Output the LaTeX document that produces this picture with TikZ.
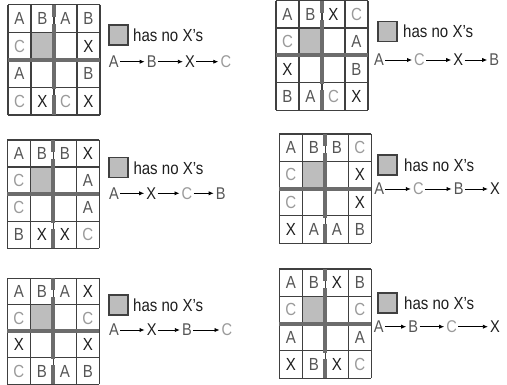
\documentclass[tikz,border=0pt]{standalone}
\usepackage{fontspec}
\setmainfont{Liberation Sans}[FakeStretch=0.86]
\usetikzlibrary{arrows.meta}
\definecolor{colA}{HTML}{555555}
\definecolor{colB}{HTML}{555555}
\definecolor{colC}{HTML}{9A9A9A}
\definecolor{colX}{HTML}{1E1E1E}
\definecolor{gridc}{HTML}{404040}
\definecolor{barc}{HTML}{6C6C6C}
\definecolor{cellgray}{HTML}{BDBDBD}
\tikzset{
  gl/.style={draw=gridc, line width=1.2pt},
  bar/.style={draw=barc, line width=4pt},
  ltr/.style={font=\fontsize{17.5}{17.5}\selectfont, inner sep=0pt},
  ltrtwo/.style={font=\fontsize{17}{17}\selectfont, inner sep=0pt},
  arr/.style={draw=black, line width=0.8pt, -{Latex[length=5pt,width=4.2pt]}, shorten <=1.2pt, shorten >=2pt},
  sqbox/.style={draw=gridc, line width=1.2pt, fill=cellgray, minimum width=19pt, minimum height=20pt, inner sep=0pt},
  legtext/.style={font=\fontsize{17.5}{17.5}\selectfont, inner sep=0pt, anchor=west, text=colX}
}
\newcommand\drawgrid[5]{%
\begin{scope}[shift={(#2,#3)}]
 \def\H{#4}
 \fill[cellgray] (23,\H) rectangle (46,2*\H);
 \foreach \i in {0,...,4} \draw[gl] (\i*23,0) -- (\i*23,4*\H);
 \foreach \j in {0,...,4} \draw[gl] (0,\j*\H) -- (92,\j*\H);
 \draw[bar] (0,2*\H) -- (92,2*\H);
 \draw[bar] (46,0) -- (46,0.44*\H);
 \draw[bar] (46,0.7*\H) -- (46,3.06*\H);
 \draw[bar] (46,3.28*\H) -- (46,4*\H);
 \foreach \t [count=\k from 0] in {#5} {
   \pgfmathtruncatemacro\rr{floor(\k/4)}
   \pgfmathtruncatemacro\cc{mod(\k,4)}
   \if\t-\else
   \node[ltr, text=col\t] (#1-\rr-\cc) at (\cc*23+11.5, \rr*\H+0.5*\H) {\t};
   \fi
 }
\end{scope}}
\newcommand\legendbox[4]{%
 \node[sqbox] (#1sq) at (#2,#3) {};
 \node[legtext] (#1txt) at (#4,#3) {has no X's};}
\newcommand\legendrow[3]{%
 \foreach \t/\xx [count=\k, remember=\k as \kp (initially 0)] in {#3} {
   \node[ltrtwo, text=col\t] (#1-\k) at (\xx,#2) {\t};
   \ifnum\k>1 \draw[arr] (#1-\kp) -- (#1-\k); \fi
 }}
\begin{document}
\begin{tikzpicture}[x=1pt,y=-1pt]
\useasboundingbox (0,0) rectangle (507,385);
% grids
\drawgrid{ga}{8}{4.7}{27.6}{A,B,A,B,C,-,-,X,A,-,-,B,C,X,C,X}
\drawgrid{gb}{276}{0.6}{27.4}{A,B,X,C,C,-,-,A,X,-,-,B,B,A,C,X}
\drawgrid{gc}{7.3}{140}{27.1}{A,B,B,X,C,-,-,A,C,-,-,A,B,X,X,C}
\drawgrid{gd}{279.3}{134}{27.3}{A,B,B,C,C,-,-,X,C,-,-,X,X,A,A,B}
\drawgrid{ge}{7.3}{278.3}{26.5}{A,B,A,X,C,-,-,C,X,-,-,X,C,B,A,B}
\drawgrid{gf}{279.3}{269}{27.3}{A,B,X,B,C,-,-,C,A,-,-,A,X,B,X,C}
% legends
\legendbox{la}{118.5}{35}{133}
\legendrow{ra}{61.7}{A/113.8, B/151.7, X/190, C/225.8}
\legendbox{lb}{387.5}{31.7}{403}
\legendrow{rb}{60}{A/379, C/419.5, X/458.3, B/494.3}
\legendbox{lc}{118.5}{167.8}{133.3}
\legendrow{rc}{193.3}{A/114, X/151.3, C/187, B/220.8}
\legendbox{ld}{387.5}{165}{404}
\legendrow{rd}{189}{A/379.2, C/418.3, B/458.7, X/495}
\legendbox{le}{118.5}{305}{133}
\legendrow{re}{330}{A/114, X/151.7, B/187, C/227}
\legendbox{lf}{387.5}{303}{404}
\legendrow{rf}{326.7}{A/378.7, B/413.3, C/451.7, X/495}
\end{tikzpicture}
\end{document}
